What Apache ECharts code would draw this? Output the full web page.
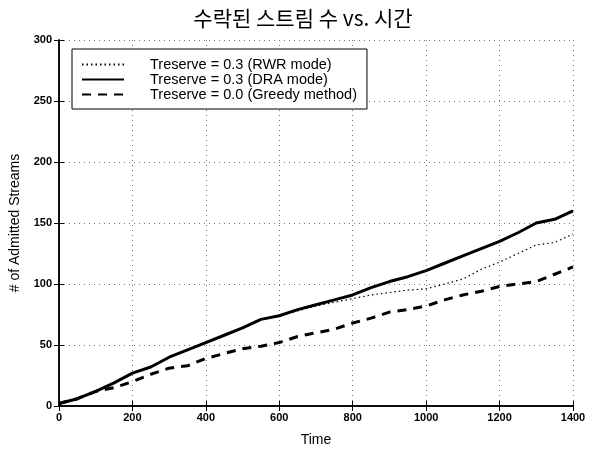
<!DOCTYPE html>
<html>
<head>
<meta charset="utf-8">
<script src="https://cdn.jsdelivr.net/npm/echarts@6/dist/echarts.min.js"></script>
<style>html,body{margin:0;padding:0;background:#fff}#c{width:599px;height:452px}</style>
</head>
<body>
<div id="c"></div>
<script>
var titleText = '수락된 스트림 수 vs. 시간';
var xName = 'Time';
var yName = '# of Admitted Streams';
var seriesNames = ['Treserve = 0.3 (RWR mode)', 'Treserve = 0.3 (DRA mode)', 'Treserve = 0.0 (Greedy method)'];
var xTicks = [0, 200, 400, 600, 800, 1000, 1200, 1400];
var yTicks = [0, 50, 100, 150, 200, 250, 300];
var time = [0,50,100,150,200,250,300,350,400,450,500,550,600,650,700,750,800,850,900,950,1000,1050,1100,1150,1200,1250,1300,1350,1400];
var rwr = [2,6,12,19,27,32,40,46,52,58,64,71,74,78,82,85,88,91,93,95,96,100,104,112,118,125,132,134,141];
var dra = [2,6,12,19,27,32,40,46,52,58,64,71,74,79,83,87,91,97,102,106,111,117,123,129,135,142,150,153,160];
var greedy = [2,6,12,15,20,26,31,33,39,43,47,49,52,57,60,63,68,72,77,79,82,87,91,94,98,100,102,108,114];

function pairs(xs, ys){ return xs.map(function(x,i){ return [x, ys[i]]; }); }

var chart = echarts.init(document.getElementById('c'), null, {renderer:'canvas'});
var font = 'Liberation Sans, Arial, Helvetica, sans-serif';
var tickLabel = {color:'#000', fontFamily:font, fontWeight:'bold', fontSize:11,
  formatter:function(v){ return String(v); }};
var gridLine = {show:true, lineStyle:{color:'#777', type:[1,4], width:1}};
chart.setOption({
  animation:false,
  backgroundColor:'#fff',
  title:{text:titleText, left:298, textAlign:'center', top:3,
    textStyle:{fontFamily:'Noto Sans CJK KR', fontSize:21, fontWeight:'normal', color:'#000'}},
  grid:{left:56, right:26, top:40, bottom:45},
  legend:{
    orient:'vertical', left:72, top:49,
    data:seriesNames,
    itemWidth:42, itemHeight:10, itemGap:0,
    padding:[8,10,7,9],
    borderColor:'#000', borderWidth:1, backgroundColor:'#fff',
    itemStyle:{opacity:0},
    textStyle:{fontFamily:font, fontSize:14.5, color:'#000', lineHeight:13, padding:[0,0,0,21]}
  },
  xAxis:[{
    type:'value', min:0, max:1400, interval:200,
    name:xName, nameLocation:'middle', nameGap:27,
    nameTextStyle:{fontFamily:font, fontSize:14, color:'#000'},
    axisLine:{show:true, onZero:false, lineStyle:{color:'#000', width:1.5}},
    axisTick:{show:true, inside:true, length:5, lineStyle:{color:'#000'}},
    axisLabel:Object.assign({margin:6}, tickLabel),
    splitLine:gridLine
  },{
    type:'value', position:'top', min:0, max:1400, interval:200,
    axisLine:{show:true, lineStyle:{color:'#000', width:1.5}},
    axisTick:{show:true, inside:true, length:5, lineStyle:{color:'#000'}},
    axisLabel:{show:false}, splitLine:{show:false}
  }],
  yAxis:[{
    type:'value', min:0, max:300, interval:50,
    name:yName, nameLocation:'middle', nameGap:37,
    nameTextStyle:{fontFamily:font, fontSize:14, color:'#000'},
    axisLine:{show:true, onZero:false, lineStyle:{color:'#000', width:1.5}},
    axisTick:{show:true, inside:true, length:5, lineStyle:{color:'#000'}},
    axisLabel:Object.assign({margin:7}, tickLabel),
    splitLine:gridLine
  },{
    type:'value', position:'right', min:0, max:300, interval:50,
    axisLine:{show:true, lineStyle:{color:'#000', width:1.5}},
    axisTick:{show:true, inside:true, length:5, lineStyle:{color:'#000'}},
    axisLabel:{show:false}, splitLine:{show:false}
  }],
  series:[
    {name:seriesNames[0], type:'line', data:pairs(time, rwr), symbol:'none', z:3,
      lineStyle:{color:'#000', width:1.2, type:[1.5,3]}, itemStyle:{color:'#000'}},
    {name:seriesNames[1], type:'line', data:pairs(time, dra), symbol:'none', z:2,
      lineStyle:{color:'#000', width:3}, itemStyle:{color:'#000'}},
    {name:seriesNames[2], type:'line', data:pairs(time, greedy), symbol:'none', z:2,
      lineStyle:{color:'#000', width:3, type:[9,7]}, itemStyle:{color:'#000'}}
  ]
});
</script>
</body>
</html>
